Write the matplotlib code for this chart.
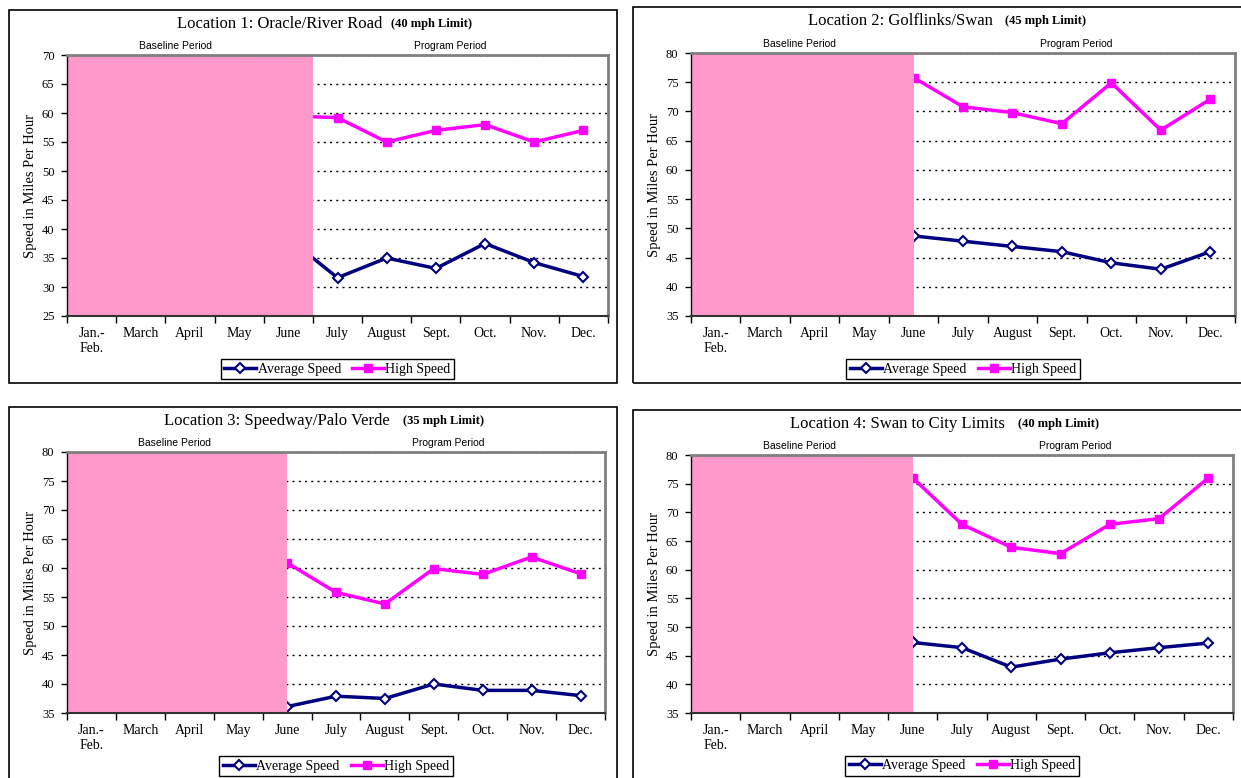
import numpy as np
import matplotlib.pyplot as plt
import matplotlib.patches as patches

nan = np.nan

months = ["Jan.-\nFeb.", "March", "April", "May", "June", "July",
          "August", "Sept.", "Oct.", "Nov.", "Dec."]

titles = ["Location 1: Oracle/River Road", "Location 2: Golflinks/Swan",
          "Location 3: Speedway/Palo Verde", "Location 4: Swan to City Limits"]
limits = ["(40 mph Limit)", "(45 mph Limit)", "(35 mph Limit)", "(40 mph Limit)"]

# baseline months are hidden behind the pink block in the original
avg_loc1 = [nan, nan, nan, nan, 38.4, 31.6, 35.0, 33.2, 37.5, 34.2, 31.8]
high_loc1 = [nan, nan, nan, nan, 59.5, 59.2, 55.0, 57.0, 58.0, 55.0, 57.0]
avg_loc2 = [nan, nan, nan, nan, 48.7, 47.8, 46.9, 46.0, 44.1, 43.0, 46.0]
high_loc2 = [nan, nan, nan, nan, 75.8, 70.8, 69.8, 67.9, 74.9, 66.8, 72.1]
avg_loc3 = [nan, nan, nan, nan, 36.1, 37.9, 37.5, 40.0, 38.9, 38.9, 38.0]
high_loc3 = [nan, nan, nan, nan, 60.9, 55.8, 53.8, 59.9, 58.9, 61.9, 59.0]
avg_loc4 = [nan, nan, nan, nan, 47.3, 46.4, 43.0, 44.4, 45.5, 46.4, 47.2]
high_loc4 = [nan, nan, nan, nan, 76.0, 67.9, 63.9, 62.8, 67.9, 68.9, 76.0]

y_ranges = [(25, 70), (35, 80), (35, 80), (35, 80)]

W, H = 1241, 778
fig = plt.figure(figsize=(W / 100, H / 100), dpi=100)
fig.patch.set_facecolor("white")

SERIF = "Liberation Serif"
SANS = "Liberation Sans"


def fx(px):
    return px / W


def fy(py):
    return 1 - py / H


# panel layout in pixels: frame box, plot area, title pieces, pink edge
panels = [
    dict(frame=(9, 10, 617, 383), plot=(67, 55, 608, 316), title_end=382, title_y=24,
         paren_x=391, edge=4.5),
    dict(frame=(633, 7, 1250, 383), plot=(691, 53, 1235, 316), title_end=993, title_y=21,
         paren_x=1005, edge=4.0),
    dict(frame=(9, 407, 617, 790), plot=(67, 452, 605, 713), title_end=390, title_y=421,
         paren_x=403, edge=4.0),
    dict(frame=(633, 410, 1250, 790), plot=(691, 455, 1233, 713), title_end=1005, title_y=424,
         paren_x=1018, edge=4.0),
]

avg_series = [avg_loc1, avg_loc2, avg_loc3, avg_loc4]
high_series = [high_loc1, high_loc2, high_loc3, high_loc4]

x = np.arange(len(months))
dots = (0, (1.5, 3))

for i, p in enumerate(panels):
    # outer frame of each chart
    x0, y0, x1, y1 = p["frame"]
    fig.add_artist(patches.Rectangle((fx(x0), fy(y1)), fx(x1 - x0), (y1 - y0) / H,
                                     transform=fig.transFigure, fill=False,
                                     edgecolor="black", lw=1.2))

    l, t, r, b = p["plot"]
    ax = fig.add_axes([fx(l), fy(b), fx(r - l), (b - t) / H])
    lo, hi = y_ranges[i]
    ax.set_xlim(-0.5, 10.5)
    ax.set_ylim(lo, hi)
    yt = np.arange(lo, hi + 1, 5)
    ax.set_yticks(yt)
    ax.set_yticklabels([str(v) for v in yt], family=SERIF, fontsize=9)

    for v in yt[1:]:
        ax.axhline(v, color="black", lw=1, ls=dots, zorder=1)

    ax.axvspan(-0.5, p["edge"], color="#FF99CC", lw=0, zorder=3)
    ax.axhline(hi, color="black", lw=1, ls=dots, zorder=4)

    h_line, = ax.plot(x, high_series[i], color="#FF00FF", lw=2.5, marker="s",
                      ms=6, zorder=2)
    a_line, = ax.plot(x, avg_series[i], color="#000080", lw=2.5, marker="D",
                      ms=5.5, mfc="white", mec="#000080", mew=1.5, zorder=2)

    # axes frame
    ax.spines["left"].set_color("black")
    ax.spines["left"].set_linewidth(1)
    ax.spines["bottom"].set_color("#333333")
    ax.spines["bottom"].set_linewidth(1.5)
    for s in ["top", "right"]:
        ax.spines[s].set_color("#808080")
        ax.spines[s].set_linewidth(2)
    for s in ax.spines.values():
        s.set_zorder(5)

    ax.set_xticks(x)
    ax.set_xticklabels(months, family=SERIF, fontsize=10)
    ax.set_xticks(np.arange(-0.5, 11, 1), minor=True)
    ax.tick_params(axis="x", which="major", length=0, pad=8)
    ax.tick_params(axis="x", which="minor", length=5, width=1, direction="out")
    ax.tick_params(axis="y", length=4, width=1, direction="out", pad=5)

    ax.set_ylabel("Speed in Miles Per Hour", family=SERIF, fontsize=10.5)
    ax.yaxis.set_label_coords(-0.056, 0.5)

    for label, xpos in [("Baseline Period", 1.7), ("Program Period", 7.3)]:
        ax.annotate(label, xy=(xpos, 1), xycoords=("data", "axes fraction"),
                    xytext=(0, 3), textcoords="offset points", ha="center",
                    va="bottom", fontsize=7.5, family=SANS)

    leg = ax.legend([a_line, h_line], ["Average Speed", "High Speed"],
                    loc="upper center", bbox_to_anchor=(0.5, -0.165), ncol=2,
                    frameon=True, fancybox=False, framealpha=1, edgecolor="black",
                    prop={"family": SERIF, "size": 10}, handlelength=2.3,
                    handletextpad=0.1, columnspacing=0.8, borderpad=0.25,
                    borderaxespad=0)
    leg.get_frame().set_linewidth(1)

    fig.text(fx(p["title_end"]), fy(p["title_y"]), titles[i], ha="right",
             va="center", family=SERIF, fontsize=12)
    fig.text(fx(p["paren_x"]), fy(p["title_y"]), limits[i], ha="left",
             va="center", family=SERIF, fontsize=9, fontweight="bold")

fig.savefig("out.png", dpi=100)
